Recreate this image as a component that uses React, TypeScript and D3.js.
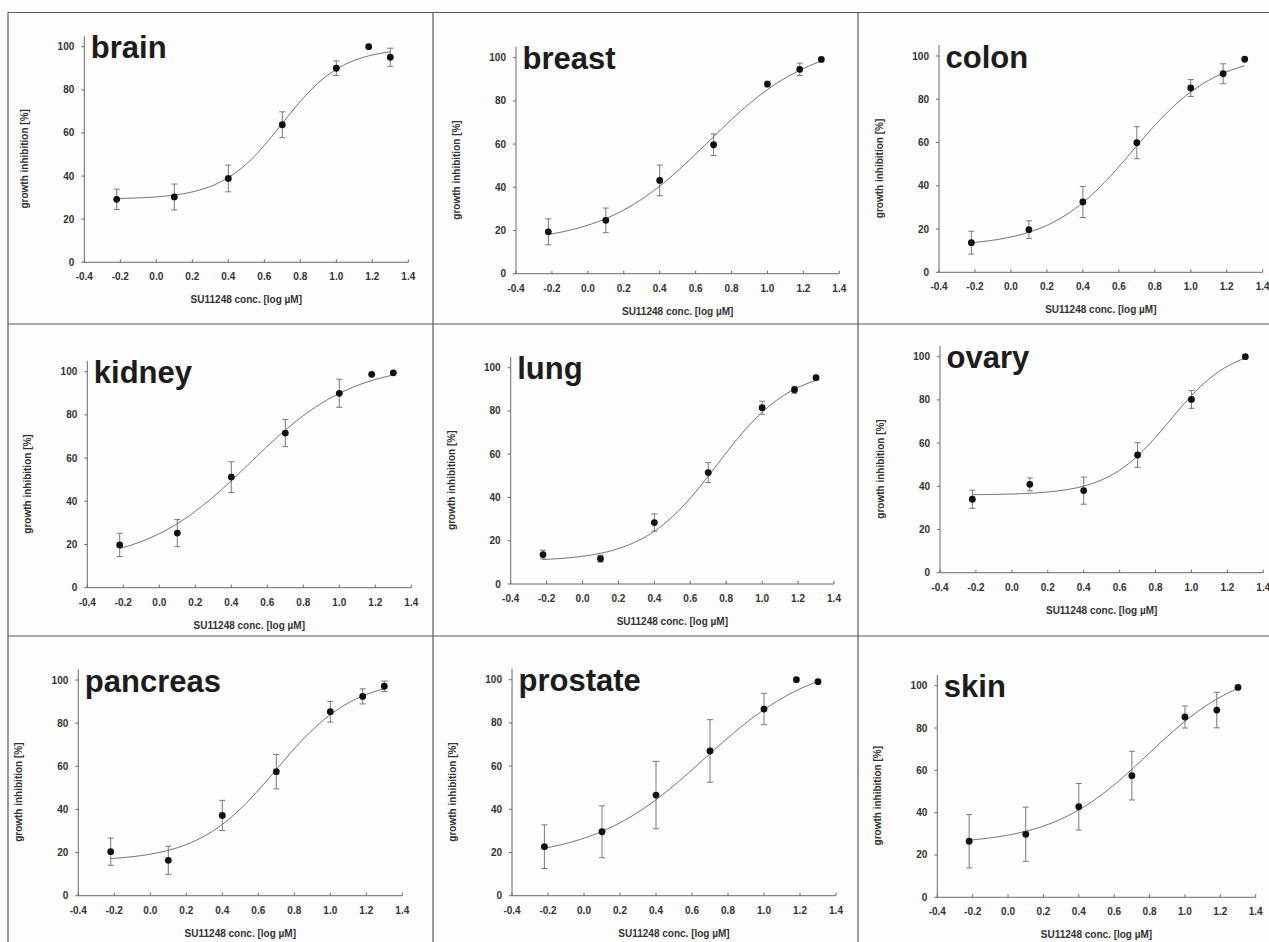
import React from "react";
import * as d3 from "d3";

// log concentration of SU11248 (µM)
const logConc = [-0.22, 0.1, 0.4, 0.7, 1.0, 1.18, 1.3];

const tissues = ["brain", "breast", "colon", "kidney", "lung", "ovary", "pancreas", "prostate", "skin"];

// mean growth inhibition [%] per concentration (null = not measured)
const brainMean = [29.2, 30.3, 38.9, 63.8, 90.0, 100.0, 95.1];
const breastMean = [19.4, 24.7, 43.2, 59.7, 87.8, 94.6, 99.2];
const colonMean = [13.7, 19.7, 32.5, 59.9, 85.2, 91.8, 98.5];
const kidneyMean = [19.8, 25.3, 51.2, 71.6, 90.0, 98.8, 99.5];
const lungMean = [13.6, 11.7, 28.4, 51.5, 81.5, 89.8, 95.4];
const ovaryMean = [34.0, 40.9, 38.0, 54.5, 80.2, null, 100.0];
const pancreasMean = [20.4, 16.4, 37.2, 57.5, 85.3, 92.4, 97.1];
const prostateMean = [22.7, 29.6, 46.6, 67.0, 86.4, 100.0, 99.1];
const skinMean = [26.5, 29.8, 42.8, 57.5, 85.2, 88.5, 99.2];

// error bar half-length [%]
const brainErr = [4.7, 6.0, 6.2, 6.0, 3.4, 0, 4.2];
const breastErr = [6.0, 5.7, 7.1, 5.0, 1.3, 2.9, 0];
const colonErr = [5.3, 4.1, 7.2, 7.4, 3.9, 4.6, 0];
const kidneyErr = [5.4, 6.3, 7.1, 6.3, 6.5, 0, 0];
const lungErr = [2.0, 1.6, 4.0, 4.6, 3.0, 1.6, 0.9];
const ovaryErr = [4.2, 3.0, 6.3, 5.7, 4.1, null, 0];
const pancreasErr = [6.3, 6.5, 7.0, 8.0, 4.8, 3.5, 2.4];
const prostateErr = [10.1, 12.0, 15.6, 14.5, 7.3, 0, 0];
const skinErr = [12.6, 12.8, 11.0, 11.5, 5.2, 8.4, 0];

const means = [brainMean, breastMean, colonMean, kidneyMean, lungMean, ovaryMean, pancreasMean, prostateMean, skinMean];
const errs = [brainErr, breastErr, colonErr, kidneyErr, lungErr, ovaryErr, pancreasErr, prostateErr, skinErr];

// sigmoidal dose-response fit parameters
const fitBottom = [29.3, 14, 12, 11, 10.5, 36, 16, 17, 25];
const fitTop = [99.5, 108, 101, 104, 100, 105, 101, 110, 110];
const fitLogEC50 = [0.7, 0.67, 0.68, 0.5, 0.75, 0.88, 0.7, 0.67, 0.79];
const fitHill = [2.6, 1.5, 1.9, 1.5, 2.1, 2.5, 2.0, 1.4, 1.6];

const xTicks = [-0.4, -0.2, 0.0, 0.2, 0.4, 0.6, 0.8, 1.0, 1.2, 1.4];
const yTicks = [0, 20, 40, 60, 80, 100];

const xLabel = "SU11248 conc. [log µM]";
const yLabel = "growth inhibition [%]";

// plot frame of every panel: left (x=-0.4), right (x=1.4), y of 0 %, y of 100 %
const frames = [
  [84.3, 408.3, 262.3, 46.7],
  [516, 839.3, 273.7, 57.7],
  [939, 1262.7, 272.3, 56],
  [87.3, 411.3, 587.7, 371.7],
  [510.7, 834, 584, 367.7],
  [940, 1263.3, 572.7, 356.7],
  [78.3, 402.3, 895.7, 680],
  [512, 836, 895.7, 679.7],
  [937.3, 1255.7, 897.3, 685.7],
];

const W = 1269;
const H = 942;
const font = "'Liberation Sans', Arial, sans-serif";

function Panel({ i }: { i: number }) {
  const [left, right, y0, y100] = frames[i];
  const x = d3.scaleLinear().domain([-0.4, 1.4]).range([left, right]);
  const y = d3.scaleLinear().domain([0, 100]).range([y0, y100]);

  const b = fitBottom[i], t = fitTop[i], ec = fitLogEC50[i], h = fitHill[i];
  const fit = (v: number) => b + (t - b) / (1 + Math.pow(10, (ec - v) * h));
  const xs = d3.range(logConc[0], logConc[logConc.length - 1] + 0.0001, 0.01);
  const line = d3.line<number>().x(v => x(v)).y(v => y(fit(v)));

  const pts = logConc
    .map((c, k) => ({ c, m: means[i][k], e: errs[i][k] }))
    .filter(p => p.m != null);

  const axisCol = "#6a6a6a";
  return (
    <g>
      {/* axes */}
      <line x1={x(-0.4)} x2={x(1.4)} y1={y(0)} y2={y(0)} stroke={axisCol} strokeWidth={1} />
      <line x1={x(-0.4)} x2={x(-0.4)} y1={y(0)} y2={y(105)} stroke={axisCol} strokeWidth={1} />
      {xTicks.map(v => (
        <g key={"x" + v}>
          <line x1={x(v)} x2={x(v)} y1={y(0)} y2={y(0) - 3} stroke={axisCol} />
          <text x={x(v)} y={y(0) + 18} textAnchor="middle" fontSize={10} fontWeight="bold" fill="#333" fontFamily={font}>
            {v.toFixed(1)}
          </text>
        </g>
      ))}
      {yTicks.map(v => (
        <g key={"y" + v}>
          <line x1={x(-0.4) - 3} x2={x(-0.4)} y1={y(v)} y2={y(v)} stroke={axisCol} />
          <text x={x(-0.4) - 10} y={y(v) + 3.5} textAnchor="end" fontSize={10} fontWeight="bold" fill="#333" fontFamily={font}>
            {v}
          </text>
        </g>
      ))}
      <text x={(left + right) / 2} y={y(0) + 41} textAnchor="middle" fontSize={10} fontWeight="bold" fill="#333" fontFamily={font}>
        {xLabel}
      </text>
      <text
        transform={`translate(${left - 56},${y(48)}) rotate(-90)`}
        textAnchor="middle" fontSize={10} fontWeight="bold" fill="#333" fontFamily={font}>
        {yLabel}
      </text>
      <text x={left + 6.5} y={y100 + 11.5} fontSize={31} fontWeight="bold" fill="#1c1c1c" fontFamily={font}>
        {tissues[i]}
      </text>

      {/* fitted curve */}
      <path d={line(xs) || ""} fill="none" stroke="#6e6e6e" strokeWidth={1} />

      {/* error bars and points */}
      {pts.map(p => (
        <g key={"p" + p.c}>
          {p.e > 0 && (
            <g stroke="#7a7a7a" strokeWidth={1}>
              <line x1={x(p.c)} x2={x(p.c)} y1={y(p.m + p.e)} y2={y(p.m - p.e)} />
              <line x1={x(p.c) - 3} x2={x(p.c) + 3} y1={y(p.m + p.e)} y2={y(p.m + p.e)} />
              <line x1={x(p.c) - 3} x2={x(p.c) + 3} y1={y(p.m - p.e)} y2={y(p.m - p.e)} />
            </g>
          )}
          <circle cx={x(p.c)} cy={y(p.m)} r={3.4} fill="#111" />
        </g>
      ))}
    </g>
  );
}

export default function App() {
  const gridCol = "#5a5a5a";
  const colX = [8, 433, 858];
  const rowY = [12.5, 324, 636];
  return (
    <svg width={W} height={H} style={{ position: "absolute", left: 0, top: 0, background: "#fdfdfd" }}>
      {rowY.map(v => (
        <line key={"r" + v} x1={8} x2={W} y1={v} y2={v} stroke={gridCol} strokeWidth={1.2} />
      ))}
      {colX.map(v => (
        <line key={"c" + v} x1={v} x2={v} y1={12.5} y2={H} stroke={gridCol} strokeWidth={1.2} />
      ))}
      {tissues.map((_, i) => (
        <Panel key={i} i={i} />
      ))}
    </svg>
  );
}
